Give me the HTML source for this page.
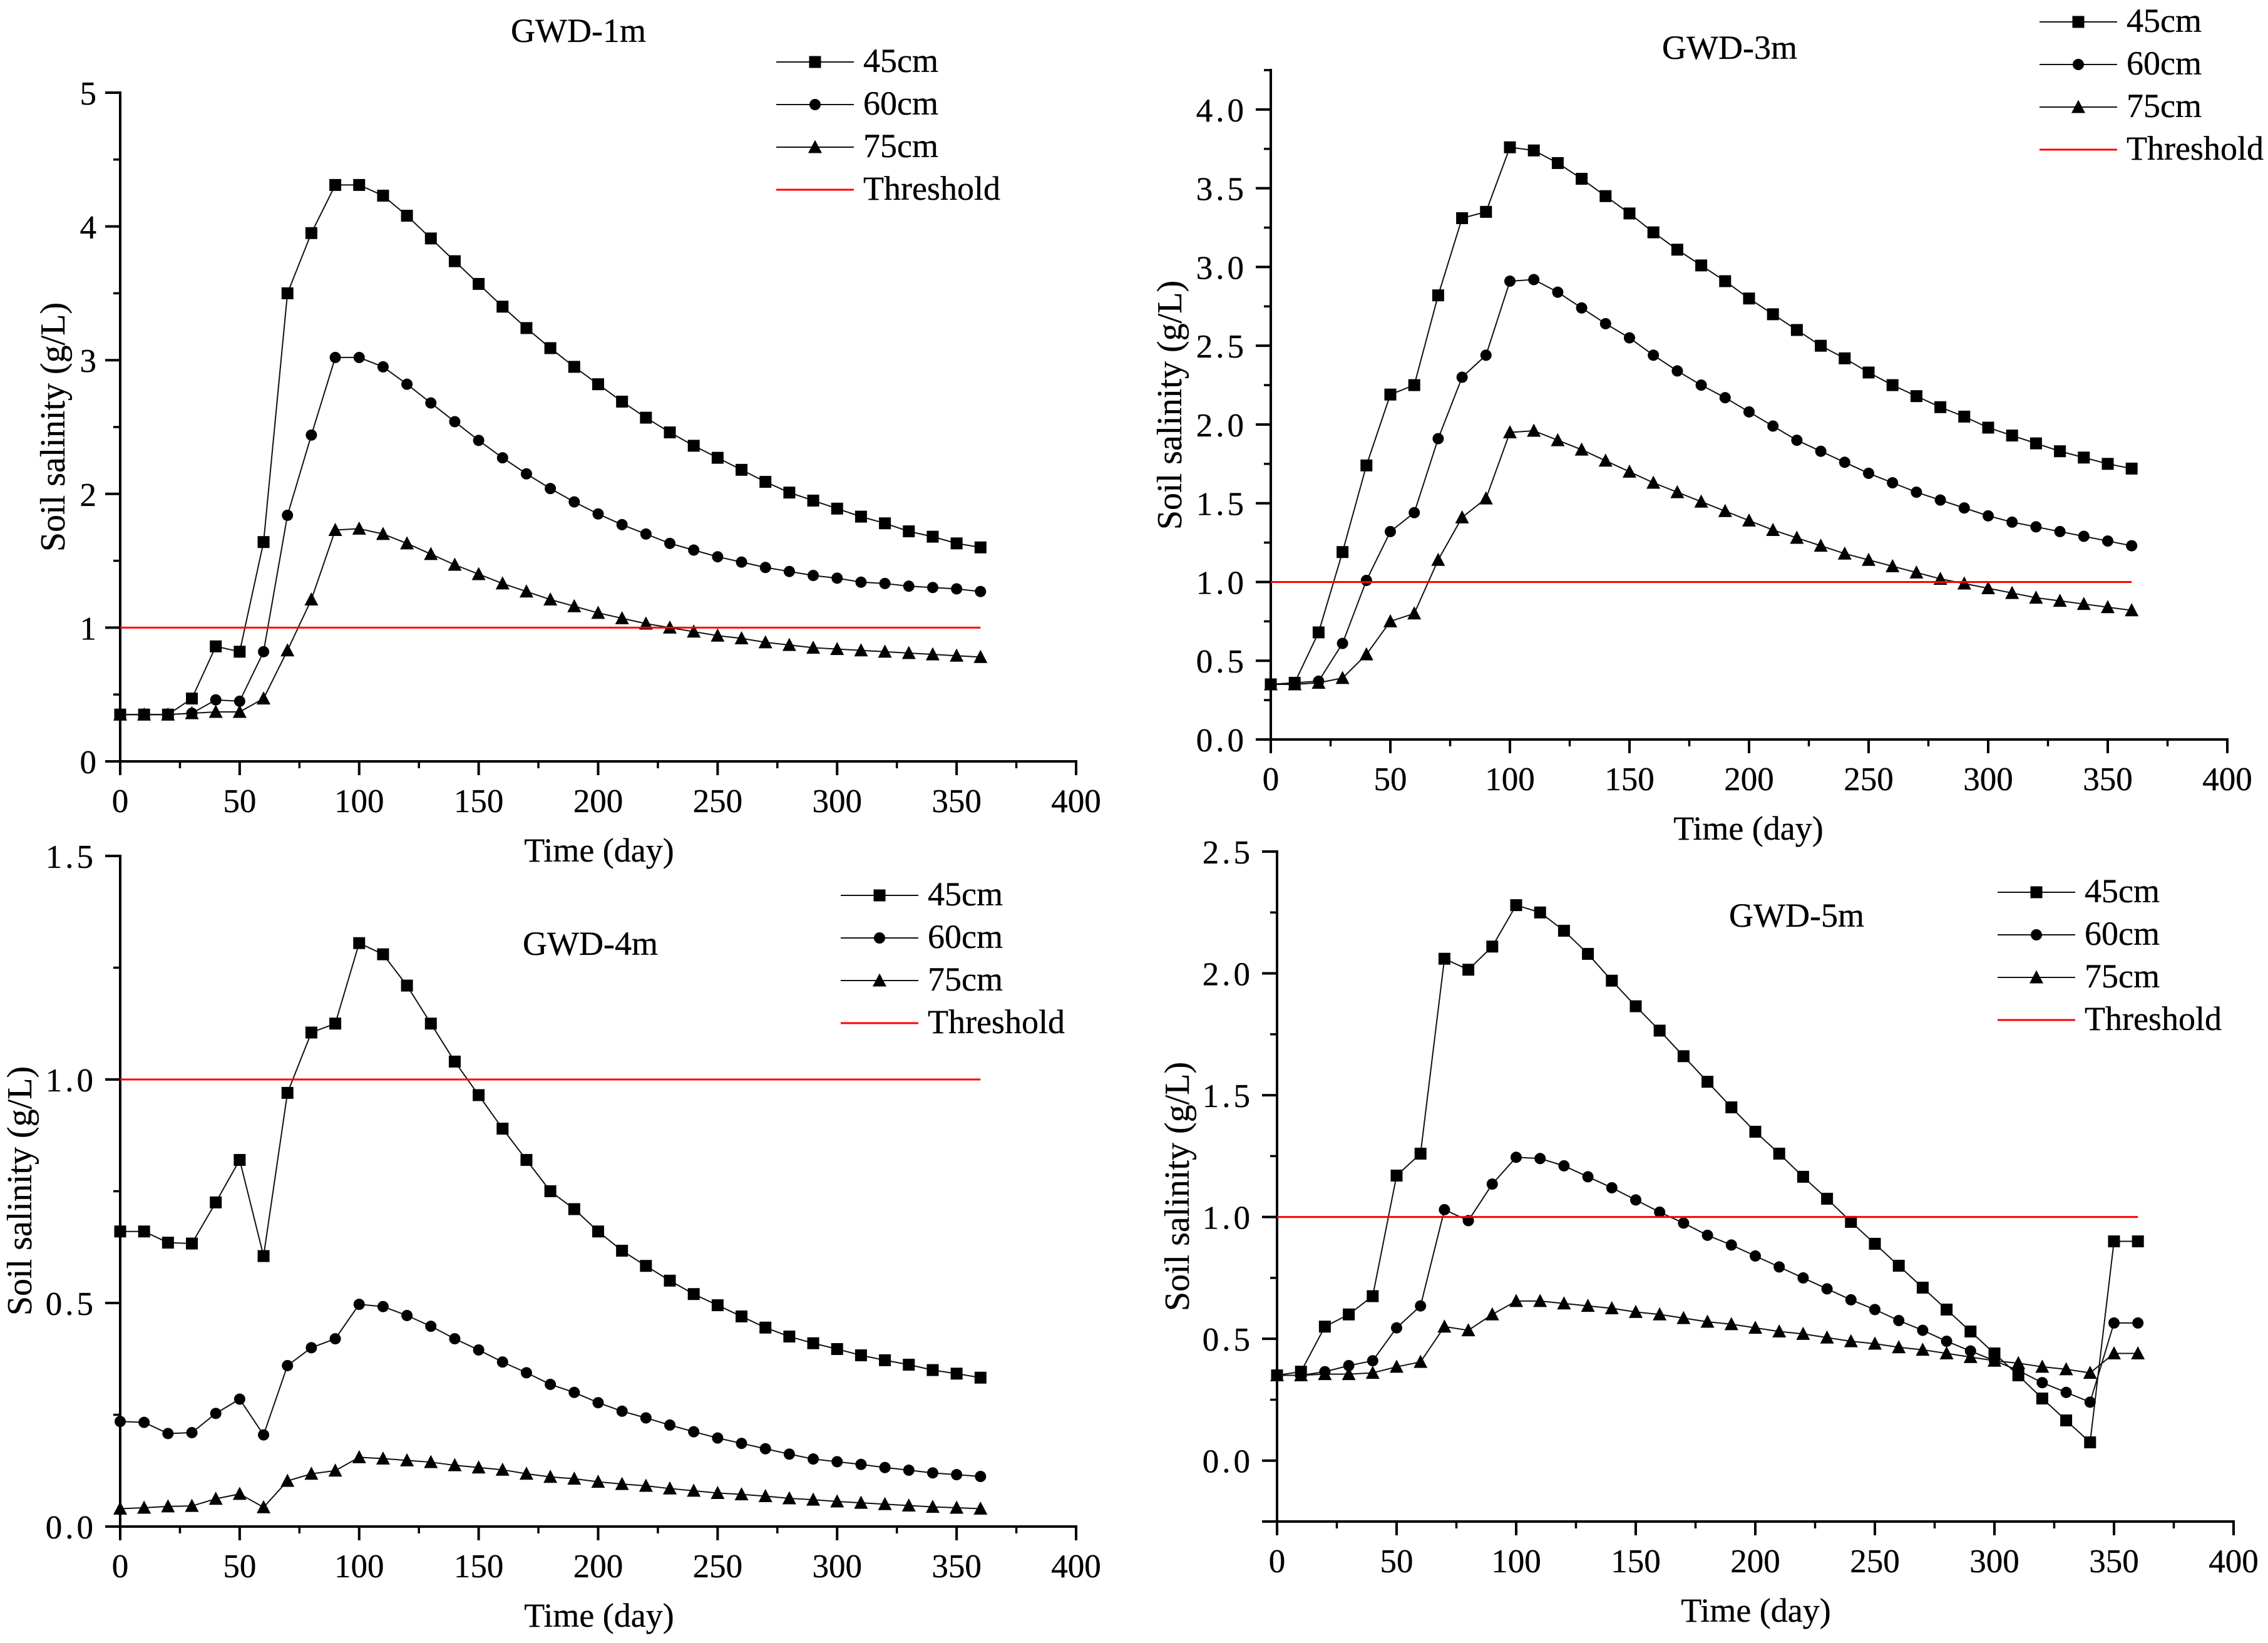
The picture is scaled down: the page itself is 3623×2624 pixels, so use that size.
<!DOCTYPE html>
<html lang="en">
<head>
<meta charset="utf-8">
<title>Soil salinity over time at four groundwater depths</title>
<style>
html,body{margin:0;padding:0;background:#fff;}
svg{display:block;}
text{font-family:"Liberation Serif",serif;fill:#000;stroke:#000;stroke-width:.35px;}
</style>
</head>
<body>
<svg id="figure" xmlns="http://www.w3.org/2000/svg" width="3623" height="2624" viewBox="0 0 3623 2624"></svg>
<script>
const days = [0,10,20,30,40,50,60,70,80,90,100,110,120,130,140,150,160,170,180,190,200,210,220,230,240,250,260,270,280,290,300,310,320,330,340,350,360];
const thresholdValue = 1;
const thresholdDays = [0,360];
const xTickValues = [0,50,100,150,200,250,300,350,400];
const xMinorValues = [25,75,125,175,225,275,325,375];
const seriesNames = ['45cm','60cm','75cm'];

const gwd1s45 = [.35,.35,.35,.47,.86,.82,1.64,3.5,3.95,4.31,4.31,4.23,4.08,3.91,3.74,3.57,3.4,3.24,3.09,2.95,2.82,2.69,2.57,2.46,2.36,2.27,2.18,2.09,2.01,1.95,1.89,1.83,1.78,1.72,1.68,1.63,1.6];
const gwd1s60 = [.35,.35,.35,.36,.46,.45,.82,1.84,2.44,3.02,3.02,2.95,2.82,2.68,2.54,2.4,2.27,2.15,2.04,1.94,1.85,1.77,1.7,1.63,1.58,1.53,1.49,1.45,1.42,1.39,1.37,1.34,1.33,1.31,1.3,1.29,1.27];
const gwd1s75 = [.35,.35,.35,.36,.37,.37,.47,.83,1.21,1.73,1.74,1.7,1.63,1.55,1.47,1.4,1.33,1.27,1.21,1.16,1.11,1.07,1.03,1.0,.97,.94,.92,.89,.87,.85,.84,.83,.82,.81,.8,.79,.78];
const gwd1Ticks = ['0','1','2','3','4','5'];
const gwd1Minor = [.5,1.5,2.5,3.5,4.5];

const gwd3s45 = [.35,.36,.68,1.19,1.74,2.19,2.25,2.82,3.31,3.35,3.76,3.74,3.66,3.56,3.45,3.34,3.22,3.11,3.01,2.91,2.8,2.7,2.6,2.5,2.42,2.33,2.25,2.18,2.11,2.05,1.98,1.93,1.88,1.83,1.79,1.75,1.72];
const gwd3s60 = [.35,.36,.37,.61,1.01,1.32,1.44,1.91,2.3,2.44,2.91,2.92,2.84,2.74,2.64,2.55,2.44,2.34,2.25,2.17,2.08,1.99,1.9,1.83,1.76,1.69,1.63,1.57,1.52,1.47,1.42,1.38,1.35,1.32,1.29,1.26,1.23];
const gwd3s75 = [.35,.35,.36,.39,.54,.75,.8,1.14,1.41,1.53,1.95,1.96,1.9,1.84,1.77,1.7,1.63,1.57,1.51,1.45,1.39,1.33,1.28,1.23,1.18,1.14,1.1,1.06,1.02,.99,.96,.93,.9,.88,.86,.84,.82];
const gwd3Ticks = ['0.0','0.5','1.0','1.5','2.0','2.5','3.0','3.5','4.0'];
const gwd3Minor = [.25,.75,1.25,1.75,2.25,2.75,3.25,3.75,4.25];

const gwd4s45 = [.66,.66,.635,.633,.725,.82,.605,.97,1.105,1.125,1.305,1.28,1.21,1.125,1.04,.965,.89,.82,.75,.71,.66,.617,.583,.55,.52,.495,.47,.445,.425,.41,.397,.383,.372,.362,.35,.342,.333];
const gwd4s60 = [.235,.233,.208,.21,.253,.285,.205,.36,.4,.42,.497,.492,.472,.448,.42,.395,.368,.344,.318,.3,.277,.258,.243,.227,.212,.198,.186,.174,.162,.151,.145,.139,.132,.126,.12,.116,.112];
const gwd4s75 = [.04,.042,.045,.046,.062,.073,.043,.102,.118,.125,.155,.152,.148,.144,.137,.132,.127,.118,.111,.107,.1,.095,.091,.085,.08,.075,.072,.068,.063,.06,.056,.053,.05,.047,.044,.042,.04];
const gwd4Ticks = ['0.0','0.5','1.0','1.5'];
const gwd4Minor = [.25,.75,1.25];

const gwd5s45 = [.35,.365,.55,.6,.675,1.17,1.26,2.06,2.015,2.11,2.28,2.25,2.175,2.08,1.97,1.865,1.765,1.66,1.555,1.45,1.35,1.26,1.165,1.075,.98,.89,.8,.71,.62,.53,.44,.35,.255,.165,.075,.9,.9];
const gwd5s60 = [.35,.35,.365,.39,.41,.545,.635,1.03,.985,1.135,1.245,1.24,1.21,1.165,1.12,1.07,1.02,.975,.925,.885,.84,.795,.75,.705,.66,.62,.575,.535,.49,.45,.41,.37,.32,.28,.24,.565,.565];
const gwd5s75 = [.35,.35,.355,.355,.36,.385,.405,.55,.535,.6,.655,.655,.645,.635,.625,.61,.6,.585,.57,.56,.545,.53,.52,.505,.49,.48,.465,.455,.44,.425,.41,.4,.385,.375,.36,.44,.44];
const gwd5Ticks = ['0.0','0.5','1.0','1.5','2.0','2.5'];
const gwd5Minor = [-.25,.25,.75,1.25,1.75,2.25];

const panels = [
  {id:'gwd-1m', title:'GWD-1m', series:[gwd1s45,gwd1s60,gwd1s75], ticks:gwd1Ticks, minor:gwd1Minor, yMin:0, yMax:5,
   left:192, right:1719, bottom:1216, top:148, titleX:924, titleY:67, yTitleX:85, yTitleY:682, xTitleX:957, legendX:1240, legendY:99, spaced:false},
  {id:'gwd-3m', title:'GWD-3m', series:[gwd3s45,gwd3s60,gwd3s75], ticks:gwd3Ticks, minor:gwd3Minor, yMin:0, yMax:4.25,
   left:2030, right:3558, bottom:1181, top:112, titleX:2763, titleY:94, yTitleX:1869, yTitleY:647, xTitleX:2793, legendX:3258, legendY:35, spaced:true},
  {id:'gwd-4m', title:'GWD-4m', series:[gwd4s45,gwd4s60,gwd4s75], ticks:gwd4Ticks, minor:gwd4Minor, yMin:0, yMax:1.5,
   left:192, right:1719, bottom:2438, top:1367, titleX:943, titleY:1525, yTitleX:32, yTitleY:1902, xTitleX:957, legendX:1343, legendY:1430, spaced:true},
  {id:'gwd-5m', title:'GWD-5m', series:[gwd5s45,gwd5s60,gwd5s75], ticks:gwd5Ticks, minor:gwd5Minor, yMin:-.25, yMax:2.5,
   left:2040, right:3568, bottom:2430, top:1360, titleX:2870, titleY:1480, yTitleX:1881, yTitleY:1895, xTitleX:2805, legendX:3191, legendY:1425, spaced:true}
];

const NS = 'http://www.w3.org/2000/svg';
const figure = document.getElementById('figure');

function make(tag, attrs, parent) {
  const node = document.createElementNS(NS, tag);
  for (const k in attrs) node.setAttribute(k, attrs[k]);
  parent.appendChild(node);
  return node;
}

function drawMarker(kind, cx, cy, parent) {
  let m;
  if (kind === 0) {
    m = make('rect', {x:cx-9.5, y:cy-9.5, width:19, height:19, fill:'#000'}, parent);
  } else if (kind === 1) {
    m = make('circle', {cx:cx, cy:cy, r:9, fill:'#000'}, parent);
  } else {
    m = make('polygon', {points:(cx-11)+','+(cy+9.5)+' '+(cx+11)+','+(cy+9.5)+' '+cx+','+(cy-11.5), fill:'#000'}, parent);
  }
  return m;
}

panels.forEach(function (p) {
  const xScale = function (d) { return p.left + (d / 400) * (p.right - p.left); };
  const yScale = function (v) { return p.bottom - ((v - p.yMin) / (p.yMax - p.yMin)) * (p.bottom - p.top); };

  const g = make('g', {}, figure);
  
  

  const title = make('text', {x:p.titleX, y:p.titleY, 'text-anchor':'middle', 'font-size':54}, g);
  title.textContent = p.title;
  
  

  const yAxis = make('line', {x1:p.left, x2:p.left, y1:p.top - 2, y2:p.bottom + 22, stroke:'#000', 'stroke-width':4}, g);
  
  

  const xAxis = make('line', {x1:p.left - 24, x2:p.right + 2, y1:p.bottom, y2:p.bottom, stroke:'#000', 'stroke-width':4}, g);
  
  

  xTickValues.forEach(function (d) {
    const t = make('line', {x1:xScale(d), x2:xScale(d), y1:p.bottom, y2:p.bottom + 22, stroke:'#000', 'stroke-width':4}, g);
    
    
    const lab = make('text', {x:xScale(d), y:p.bottom + 81, 'text-anchor':'middle', 'font-size':53}, g);
    lab.textContent = String(d);
    
    
  });
  xMinorValues.forEach(function (d) {
    const t = make('line', {x1:xScale(d), x2:xScale(d), y1:p.bottom, y2:p.bottom + 11, stroke:'#000', 'stroke-width':3.5}, g);
    
    
  });

  p.ticks.forEach(function (label) {
    const v = parseFloat(label);
    const t = make('line', {x1:p.left - 24, x2:p.left, y1:yScale(v), y2:yScale(v), stroke:'#000', 'stroke-width':4}, g);
    
    
    const lab = make('text', {x:p.left - 38, y:yScale(v) + 19, 'text-anchor':'end', 'font-size':53}, g);
    lab.textContent = label;
    if (p.spaced) lab.setAttribute('letter-spacing', '5');
    
    
  });
  p.minor.forEach(function (v) {
    const t = make('line', {x1:p.left - 11, x2:p.left, y1:yScale(v), y2:yScale(v), stroke:'#000', 'stroke-width':3.5}, g);
    
    
  });

  const xTitle = make('text', {x:p.xTitleX, y:p.bottom + 160, 'text-anchor':'middle', 'font-size':54}, g);
  xTitle.textContent = 'Time (day)';
  
  

  const yTitle = make('text', {x:0, y:0, 'text-anchor':'middle', 'font-size':56, transform:'translate(' + (p.yTitleX + 18) + ' ' + p.yTitleY + ') rotate(-90)'}, g);
  yTitle.textContent = 'Soil salinity (g/L)';
  
  

  p.series.forEach(function (values, si) {
    const sg = make('g', {}, g);
    
    
    const pts = values.map(function (v, i) { return xScale(days[i]) + ',' + yScale(v); }).join(' ');
    const line = make('polyline', {points:pts, fill:'none', stroke:'#111', 'stroke-width':2}, sg);
    
    
    values.forEach(function (v, i) {
      const m = drawMarker(si, xScale(days[i]), yScale(v), sg);
      
      
    });
  });

  const th = make('line', {x1:xScale(thresholdDays[0]), x2:xScale(thresholdDays[1]), y1:yScale(thresholdValue), y2:yScale(thresholdValue), stroke:'#f00', 'stroke-width':3}, g);
  
  

  const lg = make('g', {}, g);
  
  
  seriesNames.concat(['Threshold']).forEach(function (name, i) {
    const y = p.legendY + i * 68;
    const isThreshold = name === 'Threshold';
    const ll = make('line', {x1:p.legendX, x2:p.legendX + 124, y1:y, y2:y, stroke:isThreshold ? '#f00' : '#111', 'stroke-width':isThreshold ? 3 : 2}, lg);
    
    
    if (!isThreshold) {
      const lm = drawMarker(i, p.legendX + 62, y, lg);
      
      
    }
    const lt = make('text', {x:p.legendX + 139, y:y + 16, 'font-size':54}, lg);
    lt.textContent = name;
    
    
  });
});
</script>
</body>
</html>
